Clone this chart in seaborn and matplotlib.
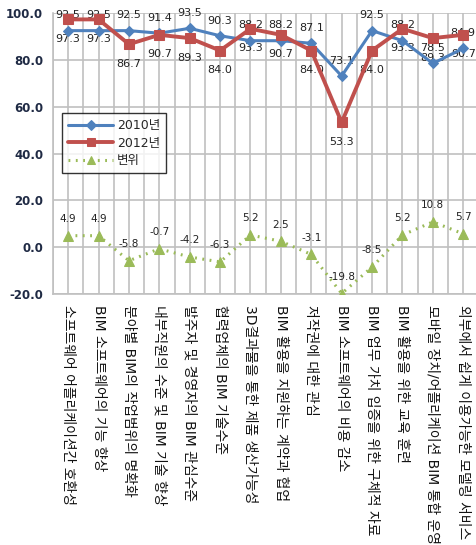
import numpy as np
import pandas as pd
import matplotlib
matplotlib.use("Agg")
import matplotlib.pyplot as plt
import seaborn as sns

# data
categories = [
    "소프트웨어 어플리케이션간 호환성",
    "BIM 소프트웨어의 기능 향상",
    "분야별 BIM의 작업범위의 명확화",
    "내부직원의 수준 및 BIM 기술 향상",
    "발주자 및 경영자의 BIM 관심수준",
    "협력업체의 BIM 기술수준",
    "3D결과물을 통한 제품 생산가능성",
    "BIM 활용을 지원하는 계약과 협업",
    "저작권에 대한 관심",
    "BIM 소프트웨어의 비용 감소",
    "BIM 업무 가치 입증을 위한 구체적 자료",
    "BIM 활용을 위한 교육 훈련",
    "모바일 장치/어플리케이션 BIM 통합 운영",
    "외부에서 쉽게 이용가능한 모델링 서비스",
]
y2010 = [92.5, 92.5, 92.5, 91.4, 93.5, 90.3, 88.2, 88.2, 87.1, 73.1, 92.5, 88.2, 78.5, 84.9]
y2012 = [97.3, 97.3, 86.7, 90.7, 89.3, 84.0, 93.3, 90.7, 84.0, 53.3, 84.0, 93.3, 89.3, 90.7]
change = [4.9, 4.9, -5.8, -0.7, -4.2, -6.3, 5.2, 2.5, -3.1, -19.8, -8.5, 5.2, 10.8, 5.7]

yticks = [-20, 0, 20, 40, 60, 80, 100]

sns.set_style("white")
plt.rcParams["font.family"] = ["DejaVu Sans", "Noto Sans CJK KR"]

df = pd.DataFrame({"pos": np.arange(len(categories)),
                   "y2010": y2010, "y2012": y2012, "change": change})

blue = "#4F81BD"
red = "#C0504D"
green = "#9BBB59"
grid_c = "#C0C0C0"

fig = plt.figure(figsize=(4.77, 5.45), dpi=100)
ax = fig.add_axes([0.111, 0.4606, 0.892, 0.5154])

sns.lineplot(data=df, x="pos", y="y2010", ax=ax, color=blue, lw=2.2,
             marker="D", markersize=5.5, markeredgecolor=blue, label="2010년", zorder=4)
sns.lineplot(data=df, x="pos", y="y2012", ax=ax, color=red, lw=2.8,
             marker="s", markersize=7, markeredgecolor=red, label="2012년", zorder=5)
sns.lineplot(data=df, x="pos", y="change", ax=ax, color=green, lw=2.2,
             linestyle=(0, (0.6, 1.8)), marker="^", markersize=7.5,
             markeredgecolor=green, label="변위", zorder=3)

# data labels: 2010 above, 2012 below, change above
for x, v in zip(df["pos"], y2010):
    ax.annotate(f"{v:.1f}", (x, v), xytext=(0, 11), textcoords="offset points",
                ha="center", va="center", fontsize=8, color="#222222")
for x, v in zip(df["pos"], y2012):
    ax.annotate(f"{v:.1f}", (x, v), xytext=(0, -14), textcoords="offset points",
                ha="center", va="center", fontsize=8, color="#222222")
for x, v in zip(df["pos"], change):
    ax.annotate(f"{v:.1f}", (x, v), xytext=(0, 12), textcoords="offset points",
                ha="center", va="center", fontsize=7.5, color="#222222")

ax.set_xlim(-0.5, len(categories) - 0.5)
ax.set_ylim(-20, 100)
ax.set_yticks(yticks)
ax.set_yticklabels([f"{t:.1f}" for t in yticks], fontsize=8.5,
                   fontweight="bold", color="#1F2A44")
ax.set_xticks(df["pos"])
ax.set_xticks(np.arange(-0.5, len(categories), 1.0), minor=True)
ax.set_xticklabels(categories, rotation=-90, ha="center", va="top",
                   fontsize=10, color="#111111")
ax.tick_params(axis="x", which="major", length=0, pad=8)
ax.tick_params(axis="x", which="minor", length=3, color=grid_c)
ax.tick_params(axis="y", length=4, color=grid_c, pad=3)
ax.set_xlabel("")
ax.set_ylabel("")

ax.grid(True, which="both", axis="x", color=grid_c, lw=1.2)
ax.grid(True, which="major", axis="y", color=grid_c, lw=1.2)
ax.set_axisbelow(True)
for s in ax.spines.values():
    s.set_color(grid_c)
    s.set_linewidth(1.2)
ax.spines["top"].set_visible(False)
ax.spines["right"].set_visible(False)

leg = ax.legend(loc="upper left", bbox_to_anchor=(0.021, 0.644), fontsize=9,
                frameon=True, fancybox=False, edgecolor="black",
                handlelength=3.6, borderpad=0.5, labelspacing=0.35,
                handletextpad=0.3, borderaxespad=0, markerscale=0.85)
leg.get_frame().set_linewidth(1.0)

fig.savefig("out.png", dpi=100)
